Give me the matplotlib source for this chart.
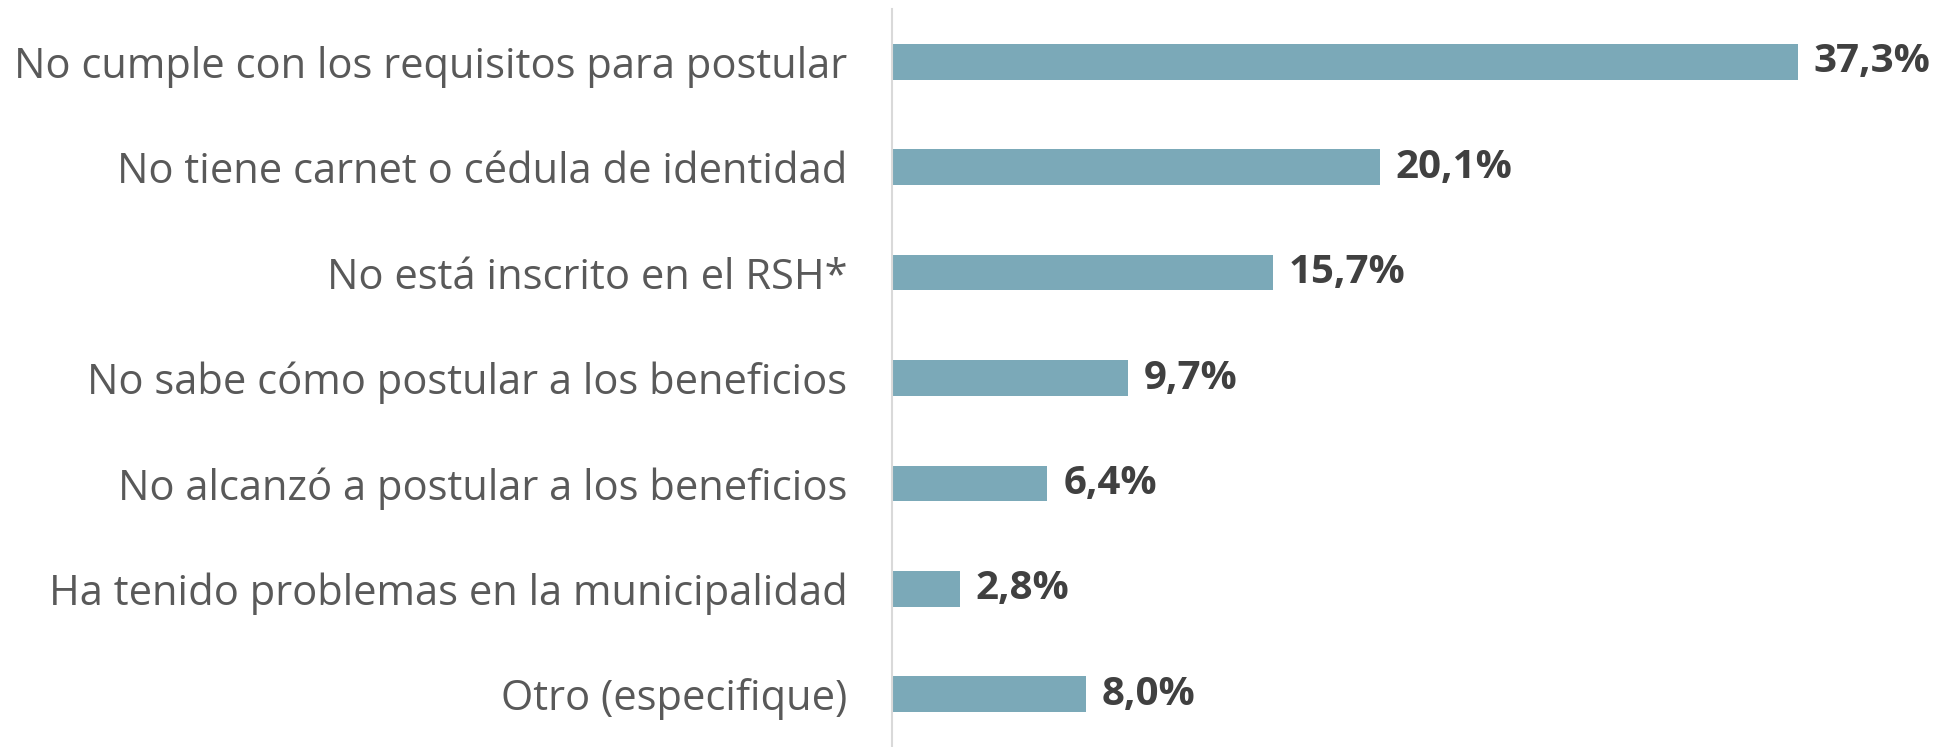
import matplotlib
matplotlib.use("Agg")
import matplotlib.pyplot as plt

categories = [
    "No cumple con los requisitos para postular",
    "No tiene carnet o cédula de identidad",
    "No está inscrito en el RSH*",
    "No sabe cómo postular a los beneficios",
    "No alcanzó a postular a los beneficios",
    "Ha tenido problemas en la municipalidad",
    "Otro (especifique)",
]
values = [37.3, 20.1, 15.7, 9.7, 6.4, 2.8, 8.0]

BAR_COLOR = "#7BA9B8"
LABEL_COLOR = "#595959"
VALUE_COLOR = "#404040"

plt.rcParams["font.family"] = ["Open Sans", "DejaVu Sans"]

fig = plt.figure(figsize=(19.46, 7.47), dpi=100)
ax = fig.add_axes([892 / 1946, 0.0, 1 - 892 / 1946, 738 / 747])

y = list(range(len(categories)))
ax.barh(y, values, height=0.34, color=BAR_COLOR)

for yi, v in zip(y, values):
    ax.text(v + 0.65, yi, f"{v:.1f}%".replace(".", ","), va="center", ha="left",
            fontsize=29, fontweight="bold", color=VALUE_COLOR)

ax.set_yticks(y)
ax.set_yticklabels(categories, fontsize=30, color=LABEL_COLOR)
ax.tick_params(axis="y", length=0, pad=32)
ax.set_xticks([])
ax.set_xlim(0, 43.4)
ax.set_ylim(len(categories) - 0.5, -0.5)

for side in ["top", "right", "bottom"]:
    ax.spines[side].set_visible(False)
ax.spines["left"].set_color("#D9D9D9")
ax.spines["left"].set_linewidth(1.5)

fig.savefig("out.png", dpi=100)
